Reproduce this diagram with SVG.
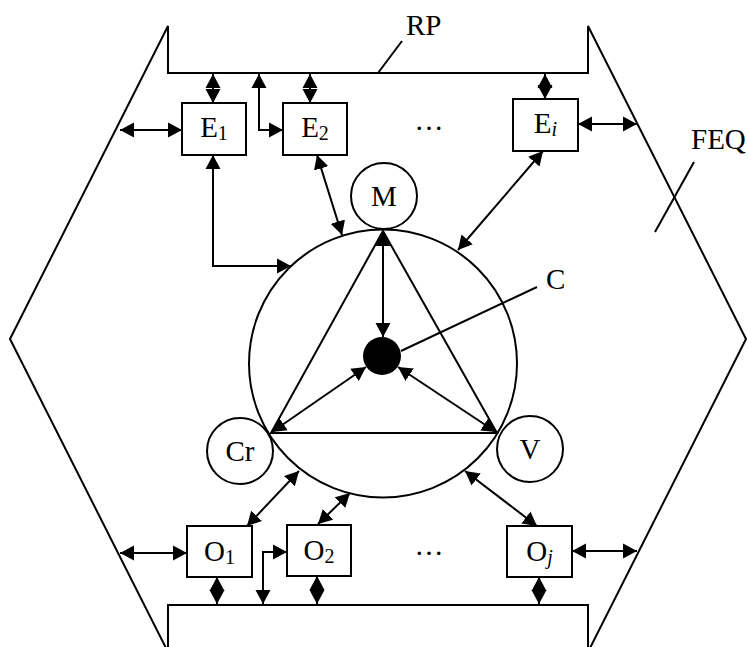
<svg xmlns="http://www.w3.org/2000/svg" width="748" height="647" viewBox="0 0 748 647">
<defs>
<marker id="ah" markerUnits="userSpaceOnUse" markerWidth="15" markerHeight="16" refX="14" refY="8" orient="auto-start-reverse">
<path d="M0,0.5 L14,8 L0,15.5 Z" fill="#000"/>
</marker>
<style>
.ln{fill:none;stroke:#000;stroke-width:2}
.ar{fill:none;stroke:#000;stroke-width:2;marker-start:url(#ah);marker-end:url(#ah)}
.bx{fill:#fff;stroke:#000;stroke-width:2}
.t{font-family:"Liberation Serif","Times New Roman",serif;font-size:29px;fill:#000}
.c{text-anchor:middle}
.s{font-size:20px}
.i{font-style:italic}
</style>
</defs>
<rect width="748" height="647" fill="#fff"/>
<g id="frame">
<path class="ln" d="M10,339 L168,26 L168,73 L588,73 L588,26 L746,339 L588,652 L588,605 L168,605 L168,652 Z"/>
</g>
<g id="connectors">
<line class="ln" x1="402" y1="41" x2="378" y2="73"/>
<line class="ln" x1="694" y1="162" x2="655" y2="232"/>
<line class="ln" x1="537" y1="287" x2="401" y2="351"/>
<line class="ar" x1="120" y1="130" x2="182" y2="130"/>
<line class="ar" x1="213" y1="74" x2="213" y2="103"/>
<polyline class="ar" points="259,74 259,130 283,130"/>
<line class="ar" x1="310" y1="74" x2="310" y2="103"/>
<line class="ar" x1="545" y1="74" x2="545" y2="99"/>
<line class="ar" x1="578" y1="124" x2="637" y2="124"/>
<polyline class="ar" points="213,155 213,266 291,266"/>
<line class="ar" x1="317" y1="155" x2="342" y2="235"/>
<line class="ar" x1="543" y1="151" x2="458" y2="250"/>
<line class="ar" x1="383" y1="232" x2="383" y2="337"/>
<line class="ar" x1="272" y1="432" x2="366" y2="367"/>
<line class="ar" x1="496" y1="432" x2="398" y2="367"/>
<line class="ar" x1="120" y1="553" x2="187" y2="553"/>
<line class="ar" x1="247" y1="526" x2="299" y2="471"/>
<line class="ar" x1="318" y1="524" x2="350" y2="493"/>
<line class="ar" x1="217" y1="577" x2="217" y2="604"/>
<polyline class="ar" points="263,604 263,552 287,552"/>
<line class="ar" x1="317" y1="576" x2="317" y2="604"/>
<line class="ar" x1="537" y1="526" x2="465" y2="471"/>
<line class="ar" x1="572" y1="551" x2="637" y2="551"/>
<line class="ar" x1="539" y1="577" x2="539" y2="604"/>
</g>
<g id="core">
<circle class="ln" cx="383" cy="363.5" r="134"/>
<polygon class="ln" points="383,231 271,433 497,433"/>
<circle cx="382" cy="356" r="19" fill="#000"/>
</g>
<g id="M"><circle class="bx" cx="384" cy="196" r="33"/><text class="t c" x="384" y="206">M</text></g>
<g id="Cr"><circle class="bx" cx="240" cy="451" r="33"/><text class="t c" x="240" y="461">Cr</text></g>
<g id="V"><circle class="bx" cx="530" cy="449" r="33"/><text class="t c" x="530" y="459">V</text></g>
<g id="E1"><rect class="bx" x="182" y="103" width="64" height="52"/><text class="t c" x="214" y="137">E<tspan class="s" dy="3">1</tspan></text></g>
<g id="E2"><rect class="bx" x="283" y="103" width="64" height="52"/><text class="t c" x="315" y="137">E<tspan class="s" dy="3">2</tspan></text></g>
<g id="Ei"><rect class="bx" x="513" y="99" width="65" height="52"/><text class="t c" x="545.5" y="133">E<tspan class="s i" dy="3">i</tspan></text></g>
<g id="O1"><rect class="bx" x="187" y="526" width="65" height="51"/><text class="t c" x="219.5" y="561">O<tspan class="s" dy="3">1</tspan></text></g>
<g id="O2"><rect class="bx" x="287" y="525" width="64" height="51"/><text class="t c" x="319" y="560">O<tspan class="s" dy="3">2</tspan></text></g>
<g id="Oj"><rect class="bx" x="507" y="526" width="65" height="51"/><text class="t c" x="539.5" y="561">O<tspan class="s i" dy="3">j</tspan></text></g>
<g id="labels">
<text class="t" x="406" y="35">RP</text>
<text class="t" x="691" y="149">FEQ</text>
<text class="t" x="546" y="289">C</text>
<text class="t c" x="429" y="130">…</text>
<text class="t c" x="429" y="555">…</text>
</g>
</svg>
